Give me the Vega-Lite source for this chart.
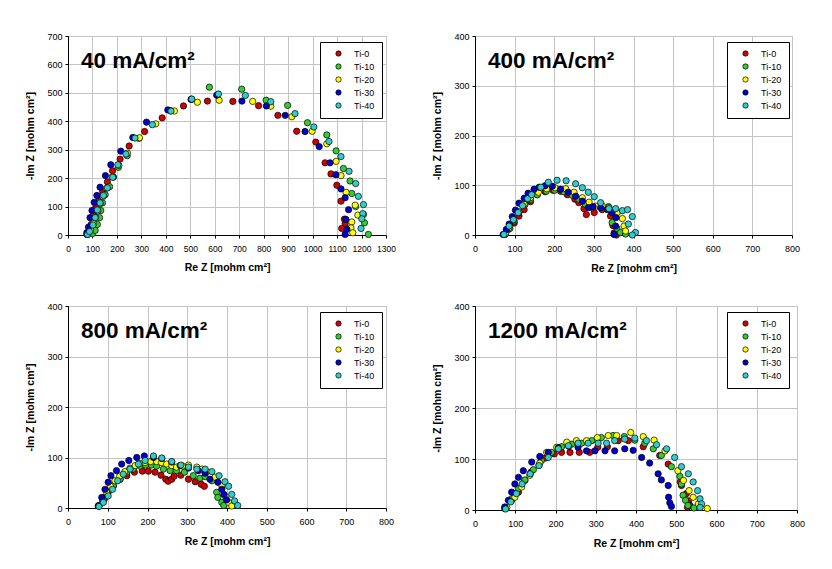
{
"$schema": "https://vega.github.io/schema/vega-lite/v6.json",
"background": "#ffffff",
"padding": {"left": 25, "top": 31, "right": 5, "bottom": 5},
"config": {
 "font": "Liberation Sans",
 "view": {"stroke": "#a0a0a0", "strokeWidth": 1},
 "axis": {"domainColor": "#000", "domainWidth": 1, "tickColor": "#000", "tickSize": 3, "gridColor": "#c4c4c4", "gridWidth": 1, "labelFont": "Liberation Sans", "labelFontSize": 9, "labelColor": "#000", "labelPadding": 3, "labelOverlap": false, "labelFlush": false, "format": "d", "titleFont": "Liberation Sans", "titleFontSize": 10.5, "titleFontWeight": "bold", "titleColor": "#000"},
 "axisX": {"titlePadding": 10, "labelPadding": 6},
 "axisY": {"titlePadding": 11},
 "title": {"anchor": "start", "frame": "group", "fontSize": 22.5, "fontWeight": "bold", "color": "#000", "font": "Liberation Sans", "offset": 0, "baseline": "alphabetic", "dx": 13, "dy": 44},
 "legend": {"title": null, "orient": "none", "legendX": 252, "legendY": 6, "strokeColor": "#000", "fillColor": "#fff", "padding": 7, "symbolType": "circle", "symbolSize": 28, "symbolOffset": 7, "labelOffset": 11, "labelFontSize": 9, "labelFont": "Liberation Sans", "labelColor": "#000", "rowPadding": 3, "symbolStrokeColor": "#000", "symbolStrokeWidth": 0.7}
},
"datasets": {
 "d40": [
  {"s":"Ti-0","re":77,"im":2},{"s":"Ti-0","re":84,"im":12},{"s":"Ti-0","re":95,"im":37},{"s":"Ti-0","re":104,"im":69},{"s":"Ti-0","re":114,"im":96},{"s":"Ti-0","re":129,"im":125},{"s":"Ti-0","re":142,"im":152},{"s":"Ti-0","re":161,"im":187},{"s":"Ti-0","re":182,"im":226},{"s":"Ti-0","re":213,"im":267},{"s":"Ti-0","re":250,"im":313},{"s":"Ti-0","re":313,"im":364},{"s":"Ti-0","re":385,"im":412},{"s":"Ti-0","re":472,"im":454},{"s":"Ti-0","re":570,"im":471},{"s":"Ti-0","re":674,"im":470},{"s":"Ti-0","re":779,"im":455},{"s":"Ti-0","re":858,"im":421},{"s":"Ti-0","re":935,"im":365},{"s":"Ti-0","re":1013,"im":327},{"s":"Ti-0","re":1051,"im":254},{"s":"Ti-0","re":1075,"im":215},{"s":"Ti-0","re":1099,"im":175},{"s":"Ti-0","re":1116,"im":119},{"s":"Ti-0","re":1133,"im":40},{"s":"Ti-0","re":1130,"im":56},{"s":"Ti-0","re":1119,"im":23},
  {"s":"Ti-10","re":80,"im":2},{"s":"Ti-10","re":100,"im":5},{"s":"Ti-10","re":111,"im":16},{"s":"Ti-10","re":120,"im":37},{"s":"Ti-10","re":129,"im":61},{"s":"Ti-10","re":134,"im":86},{"s":"Ti-10","re":141,"im":113},{"s":"Ti-10","re":152,"im":142},{"s":"Ti-10","re":170,"im":170},{"s":"Ti-10","re":186,"im":204},{"s":"Ti-10","re":206,"im":238},{"s":"Ti-10","re":242,"im":279},{"s":"Ti-10","re":290,"im":340},{"s":"Ti-10","re":420,"im":437},{"s":"Ti-10","re":505,"im":478},{"s":"Ti-10","re":578,"im":520},{"s":"Ti-10","re":710,"im":513},{"s":"Ti-10","re":810,"im":474},{"s":"Ti-10","re":898,"im":456},{"s":"Ti-10","re":979,"im":395},{"s":"Ti-10","re":1058,"im":352},{"s":"Ti-10","re":1096,"im":296},{"s":"Ti-10","re":1126,"im":234},{"s":"Ti-10","re":1153,"im":190},{"s":"Ti-10","re":1160,"im":146},{"s":"Ti-10","re":1176,"im":100},{"s":"Ti-10","re":1208,"im":72},{"s":"Ti-10","re":1212,"im":43},{"s":"Ti-10","re":1228,"im":2},
  {"s":"Ti-20","re":80,"im":3},{"s":"Ti-20","re":92,"im":18},{"s":"Ti-20","re":104,"im":40},{"s":"Ti-20","re":113,"im":62},{"s":"Ti-20","re":122,"im":85},{"s":"Ti-20","re":131,"im":110},{"s":"Ti-20","re":143,"im":135},{"s":"Ti-20","re":158,"im":165},{"s":"Ti-20","re":181,"im":205},{"s":"Ti-20","re":208,"im":245},{"s":"Ti-20","re":243,"im":288},{"s":"Ti-20","re":292,"im":342},{"s":"Ti-20","re":359,"im":391},{"s":"Ti-20","re":435,"im":436},{"s":"Ti-20","re":529,"im":467},{"s":"Ti-20","re":618,"im":474},{"s":"Ti-20","re":755,"im":470},{"s":"Ti-20","re":829,"im":453},{"s":"Ti-20","re":915,"im":416},{"s":"Ti-20","re":998,"im":365},{"s":"Ti-20","re":1058,"im":321},{"s":"Ti-20","re":1096,"im":259},{"s":"Ti-20","re":1116,"im":209},{"s":"Ti-20","re":1137,"im":150},{"s":"Ti-20","re":1174,"im":105},{"s":"Ti-20","re":1185,"im":70},{"s":"Ti-20","re":1160,"im":46},{"s":"Ti-20","re":1157,"im":25},{"s":"Ti-20","re":1164,"im":8},
  {"s":"Ti-30","re":77,"im":8},{"s":"Ti-30","re":84,"im":28},{"s":"Ti-30","re":90,"im":61},{"s":"Ti-30","re":98,"im":86},{"s":"Ti-30","re":107,"im":115},{"s":"Ti-30","re":118,"im":139},{"s":"Ti-30","re":131,"im":168},{"s":"Ti-30","re":153,"im":209},{"s":"Ti-30","re":175,"im":247},{"s":"Ti-30","re":216,"im":295},{"s":"Ti-30","re":265,"im":343},{"s":"Ti-30","re":321,"im":397},{"s":"Ti-30","re":408,"im":440},{"s":"Ti-30","re":503,"im":477},{"s":"Ti-30","re":608,"im":492},{"s":"Ti-30","re":711,"im":471},{"s":"Ti-30","re":811,"im":454},{"s":"Ti-30","re":888,"im":421},{"s":"Ti-30","re":969,"im":364},{"s":"Ti-30","re":1027,"im":311},{"s":"Ti-30","re":1071,"im":254},{"s":"Ti-30","re":1095,"im":212},{"s":"Ti-30","re":1116,"im":162},{"s":"Ti-30","re":1133,"im":131},{"s":"Ti-30","re":1147,"im":89},{"s":"Ti-30","re":1136,"im":55},{"s":"Ti-30","re":1140,"im":20},{"s":"Ti-30","re":1133,"im":2},
  {"s":"Ti-40","re":80,"im":2},{"s":"Ti-40","re":88,"im":12},{"s":"Ti-40","re":102,"im":35},{"s":"Ti-40","re":111,"im":61},{"s":"Ti-40","re":120,"im":88},{"s":"Ti-40","re":131,"im":113},{"s":"Ti-40","re":145,"im":139},{"s":"Ti-40","re":161,"im":166},{"s":"Ti-40","re":183,"im":203},{"s":"Ti-40","re":204,"im":247},{"s":"Ti-40","re":237,"im":285},{"s":"Ti-40","re":274,"im":341},{"s":"Ti-40","re":345,"im":388},{"s":"Ti-40","re":421,"im":436},{"s":"Ti-40","re":506,"im":478},{"s":"Ti-40","re":615,"im":496},{"s":"Ti-40","re":725,"im":491},{"s":"Ti-40","re":829,"im":469},{"s":"Ti-40","re":928,"im":427},{"s":"Ti-40","re":1005,"im":380},{"s":"Ti-40","re":1067,"im":329},{"s":"Ti-40","re":1116,"im":276},{"s":"Ti-40","re":1149,"im":224},{"s":"Ti-40","re":1176,"im":181},{"s":"Ti-40","re":1187,"im":136},{"s":"Ti-40","re":1208,"im":107},{"s":"Ti-40","re":1205,"im":75},{"s":"Ti-40","re":1201,"im":57},{"s":"Ti-40","re":1198,"im":23}
 ],
 "d400": [
  {"s":"Ti-0","re":76,"im":1},{"s":"Ti-0","re":84,"im":11},{"s":"Ti-0","re":99,"im":24},{"s":"Ti-0","re":111,"im":38},{"s":"Ti-0","re":124,"im":51},{"s":"Ti-0","re":140,"im":67},{"s":"Ti-0","re":157,"im":81},{"s":"Ti-0","re":177,"im":87},{"s":"Ti-0","re":197,"im":90},{"s":"Ti-0","re":216,"im":88},{"s":"Ti-0","re":233,"im":81},{"s":"Ti-0","re":252,"im":72},{"s":"Ti-0","re":262,"im":65},{"s":"Ti-0","re":275,"im":53},{"s":"Ti-0","re":281,"im":41},{"s":"Ti-0","re":301,"im":45},{"s":"Ti-0","re":321,"im":51},{"s":"Ti-0","re":342,"im":38},{"s":"Ti-0","re":348,"im":19},{"s":"Ti-0","re":351,"im":4},{"s":"Ti-0","re":357,"im":0},
  {"s":"Ti-10","re":77,"im":3},{"s":"Ti-10","re":88,"im":13},{"s":"Ti-10","re":99,"im":28},{"s":"Ti-10","re":111,"im":45},{"s":"Ti-10","re":126,"im":61},{"s":"Ti-10","re":140,"im":71},{"s":"Ti-10","re":157,"im":81},{"s":"Ti-10","re":180,"im":88},{"s":"Ti-10","re":201,"im":90},{"s":"Ti-10","re":224,"im":87},{"s":"Ti-10","re":245,"im":80},{"s":"Ti-10","re":262,"im":72},{"s":"Ti-10","re":278,"im":62},{"s":"Ti-10","re":296,"im":55},{"s":"Ti-10","re":317,"im":60},{"s":"Ti-10","re":337,"im":57},{"s":"Ti-10","re":353,"im":42},{"s":"Ti-10","re":346,"im":25},{"s":"Ti-10","re":358,"im":13},{"s":"Ti-10","re":367,"im":5},{"s":"Ti-10","re":380,"im":2},
  {"s":"Ti-20","re":77,"im":3},{"s":"Ti-20","re":86,"im":15},{"s":"Ti-20","re":97,"im":30},{"s":"Ti-20","re":110,"im":47},{"s":"Ti-20","re":124,"im":62},{"s":"Ti-20","re":140,"im":75},{"s":"Ti-20","re":160,"im":86},{"s":"Ti-20","re":181,"im":93},{"s":"Ti-20","re":202,"im":95},{"s":"Ti-20","re":229,"im":93},{"s":"Ti-20","re":250,"im":86},{"s":"Ti-20","re":271,"im":75},{"s":"Ti-20","re":288,"im":66},{"s":"Ti-20","re":305,"im":58},{"s":"Ti-20","re":321,"im":59},{"s":"Ti-20","re":338,"im":55},{"s":"Ti-20","re":359,"im":45},{"s":"Ti-20","re":372,"im":33},{"s":"Ti-20","re":376,"im":18},{"s":"Ti-20","re":380,"im":8},
  {"s":"Ti-30","re":71,"im":1},{"s":"Ti-30","re":79,"im":11},{"s":"Ti-30","re":86,"im":22},{"s":"Ti-30","re":94,"im":37},{"s":"Ti-30","re":102,"im":50},{"s":"Ti-30","re":111,"im":64},{"s":"Ti-30","re":124,"im":74},{"s":"Ti-30","re":134,"im":84},{"s":"Ti-30","re":149,"im":92},{"s":"Ti-30","re":162,"im":96},{"s":"Ti-30","re":177,"im":99},{"s":"Ti-30","re":195,"im":98},{"s":"Ti-30","re":216,"im":92},{"s":"Ti-30","re":235,"im":86},{"s":"Ti-30","re":254,"im":78},{"s":"Ti-30","re":271,"im":68},{"s":"Ti-30","re":286,"im":55},{"s":"Ti-30","re":298,"im":57},{"s":"Ti-30","re":317,"im":55},{"s":"Ti-30","re":334,"im":51},{"s":"Ti-30","re":346,"im":45},{"s":"Ti-30","re":356,"im":35},{"s":"Ti-30","re":355,"im":18},{"s":"Ti-30","re":351,"im":1},
  {"s":"Ti-40","re":73,"im":1},{"s":"Ti-40","re":86,"im":18},{"s":"Ti-40","re":97,"im":31},{"s":"Ti-40","re":109,"im":45},{"s":"Ti-40","re":120,"im":59},{"s":"Ti-40","re":133,"im":73},{"s":"Ti-40","re":143,"im":81},{"s":"Ti-40","re":166,"im":96},{"s":"Ti-40","re":185,"im":106},{"s":"Ti-40","re":207,"im":110},{"s":"Ti-40","re":230,"im":109},{"s":"Ti-40","re":254,"im":103},{"s":"Ti-40","re":271,"im":95},{"s":"Ti-40","re":286,"im":86},{"s":"Ti-40","re":301,"im":77},{"s":"Ti-40","re":317,"im":65},{"s":"Ti-40","re":338,"im":53},{"s":"Ti-40","re":355,"im":53},{"s":"Ti-40","re":372,"im":49},{"s":"Ti-40","re":385,"im":51},{"s":"Ti-40","re":397,"im":37},{"s":"Ti-40","re":387,"im":22},{"s":"Ti-40","re":405,"im":5},{"s":"Ti-40","re":397,"im":0}
 ],
 "d800": [
  {"s":"Ti-0","re":78,"im":4},{"s":"Ti-0","re":91,"im":17},{"s":"Ti-0","re":101,"im":31},{"s":"Ti-0","re":114,"im":44},{"s":"Ti-0","re":131,"im":57},{"s":"Ti-0","re":148,"im":64},{"s":"Ti-0","re":167,"im":71},{"s":"Ti-0","re":187,"im":73},{"s":"Ti-0","re":202,"im":73},{"s":"Ti-0","re":219,"im":71},{"s":"Ti-0","re":234,"im":65},{"s":"Ti-0","re":246,"im":57},{"s":"Ti-0","re":252,"im":53},{"s":"Ti-0","re":261,"im":57},{"s":"Ti-0","re":267,"im":63},{"s":"Ti-0","re":284,"im":65},{"s":"Ti-0","re":303,"im":57},{"s":"Ti-0","re":320,"im":52},{"s":"Ti-0","re":335,"im":47},{"s":"Ti-0","re":343,"im":43},
  {"s":"Ti-10","re":78,"im":5},{"s":"Ti-10","re":87,"im":14},{"s":"Ti-10","re":97,"im":24},{"s":"Ti-10","re":114,"im":44},{"s":"Ti-10","re":131,"im":57},{"s":"Ti-10","re":148,"im":71},{"s":"Ti-10","re":164,"im":77},{"s":"Ti-10","re":181,"im":83},{"s":"Ti-10","re":195,"im":85},{"s":"Ti-10","re":210,"im":85},{"s":"Ti-10","re":223,"im":83},{"s":"Ti-10","re":240,"im":77},{"s":"Ti-10","re":257,"im":74},{"s":"Ti-10","re":273,"im":74},{"s":"Ti-10","re":293,"im":71},{"s":"Ti-10","re":315,"im":64},{"s":"Ti-10","re":332,"im":59},{"s":"Ti-10","re":345,"im":62},{"s":"Ti-10","re":362,"im":54},{"s":"Ti-10","re":374,"im":31},{"s":"Ti-10","re":377,"im":21},{"s":"Ti-10","re":387,"im":11},{"s":"Ti-10","re":392,"im":5},
  {"s":"Ti-20","re":78,"im":5},{"s":"Ti-20","re":87,"im":17},{"s":"Ti-20","re":97,"im":31},{"s":"Ti-20","re":107,"im":43},{"s":"Ti-20","re":118,"im":54},{"s":"Ti-20","re":130,"im":63},{"s":"Ti-20","re":143,"im":72},{"s":"Ti-20","re":156,"im":79},{"s":"Ti-20","re":169,"im":84},{"s":"Ti-20","re":181,"im":88},{"s":"Ti-20","re":194,"im":90},{"s":"Ti-20","re":208,"im":92},{"s":"Ti-20","re":223,"im":92},{"s":"Ti-20","re":235,"im":90},{"s":"Ti-20","re":248,"im":87},{"s":"Ti-20","re":261,"im":84},{"s":"Ti-20","re":273,"im":81},{"s":"Ti-20","re":288,"im":83},{"s":"Ti-20","re":303,"im":85},{"s":"Ti-20","re":324,"im":81},{"s":"Ti-20","re":337,"im":77},{"s":"Ti-20","re":349,"im":72},{"s":"Ti-20","re":370,"im":61},{"s":"Ti-20","re":387,"im":44},{"s":"Ti-20","re":395,"im":24},{"s":"Ti-20","re":404,"im":11},{"s":"Ti-20","re":412,"im":4},
  {"s":"Ti-30","re":76,"im":4},{"s":"Ti-30","re":85,"im":21},{"s":"Ti-30","re":93,"im":37},{"s":"Ti-30","re":101,"im":51},{"s":"Ti-30","re":108,"im":64},{"s":"Ti-30","re":122,"im":74},{"s":"Ti-30","re":135,"im":87},{"s":"Ti-30","re":153,"im":94},{"s":"Ti-30","re":173,"im":100},{"s":"Ti-30","re":192,"im":103},{"s":"Ti-30","re":215,"im":100},{"s":"Ti-30","re":236,"im":98},{"s":"Ti-30","re":261,"im":91},{"s":"Ti-30","re":282,"im":84},{"s":"Ti-30","re":303,"im":79},{"s":"Ti-30","re":328,"im":74},{"s":"Ti-30","re":345,"im":69},{"s":"Ti-30","re":357,"im":57},{"s":"Ti-30","re":377,"im":51},{"s":"Ti-30","re":387,"im":37},{"s":"Ti-30","re":392,"im":27},{"s":"Ti-30","re":399,"im":16},
  {"s":"Ti-40","re":78,"im":3},{"s":"Ti-40","re":89,"im":11},{"s":"Ti-40","re":101,"im":24},{"s":"Ti-40","re":112,"im":37},{"s":"Ti-40","re":125,"im":54},{"s":"Ti-40","re":139,"im":67},{"s":"Ti-40","re":156,"im":77},{"s":"Ti-40","re":177,"im":87},{"s":"Ti-40","re":194,"im":94},{"s":"Ti-40","re":215,"im":103},{"s":"Ti-40","re":236,"im":99},{"s":"Ti-40","re":261,"im":92},{"s":"Ti-40","re":284,"im":85},{"s":"Ti-40","re":303,"im":81},{"s":"Ti-40","re":324,"im":77},{"s":"Ti-40","re":345,"im":77},{"s":"Ti-40","re":362,"im":72},{"s":"Ti-40","re":380,"im":64},{"s":"Ti-40","re":395,"im":52},{"s":"Ti-40","re":404,"im":43},{"s":"Ti-40","re":412,"im":27},{"s":"Ti-40","re":419,"im":14},{"s":"Ti-40","re":427,"im":5}
 ],
 "d1200": [
  {"s":"Ti-0","re":74,"im":3},{"s":"Ti-0","re":91,"im":19},{"s":"Ti-0","re":108,"im":35},{"s":"Ti-0","re":124,"im":58},{"s":"Ti-0","re":139,"im":74},{"s":"Ti-0","re":159,"im":88},{"s":"Ti-0","re":175,"im":102},{"s":"Ti-0","re":197,"im":110},{"s":"Ti-0","re":215,"im":113},{"s":"Ti-0","re":236,"im":113},{"s":"Ti-0","re":259,"im":113},{"s":"Ti-0","re":285,"im":113},{"s":"Ti-0","re":305,"im":123},{"s":"Ti-0","re":329,"im":124},{"s":"Ti-0","re":356,"im":136},{"s":"Ti-0","re":381,"im":136},{"s":"Ti-0","re":418,"im":124},{"s":"Ti-0","re":459,"im":107},{"s":"Ti-0","re":480,"im":90},{"s":"Ti-0","re":510,"im":55},{"s":"Ti-0","re":513,"im":48},{"s":"Ti-0","re":525,"im":32},{"s":"Ti-0","re":531,"im":18},{"s":"Ti-0","re":534,"im":9},{"s":"Ti-0","re":528,"im":5},
  {"s":"Ti-10","re":74,"im":3},{"s":"Ti-10","re":91,"im":22},{"s":"Ti-10","re":108,"im":42},{"s":"Ti-10","re":124,"im":59},{"s":"Ti-10","re":145,"im":79},{"s":"Ti-10","re":165,"im":97},{"s":"Ti-10","re":190,"im":113},{"s":"Ti-10","re":215,"im":124},{"s":"Ti-10","re":240,"im":129},{"s":"Ti-10","re":265,"im":131},{"s":"Ti-10","re":290,"im":136},{"s":"Ti-10","re":314,"im":142},{"s":"Ti-10","re":343,"im":146},{"s":"Ti-10","re":371,"im":144},{"s":"Ti-10","re":397,"im":137},{"s":"Ti-10","re":422,"im":131},{"s":"Ti-10","re":443,"im":120},{"s":"Ti-10","re":463,"im":107},{"s":"Ti-10","re":488,"im":85},{"s":"Ti-10","re":509,"im":66},{"s":"Ti-10","re":513,"im":51},{"s":"Ti-10","re":517,"im":29},{"s":"Ti-10","re":523,"im":19},{"s":"Ti-10","re":529,"im":9},{"s":"Ti-10","re":544,"im":4},
  {"s":"Ti-20","re":79,"im":5},{"s":"Ti-20","re":99,"im":25},{"s":"Ti-20","re":116,"im":45},{"s":"Ti-20","re":136,"im":68},{"s":"Ti-20","re":161,"im":92},{"s":"Ti-20","re":178,"im":113},{"s":"Ti-20","re":203,"im":123},{"s":"Ti-20","re":228,"im":133},{"s":"Ti-20","re":252,"im":136},{"s":"Ti-20","re":277,"im":136},{"s":"Ti-20","re":304,"im":142},{"s":"Ti-20","re":331,"im":146},{"s":"Ti-20","re":352,"im":146},{"s":"Ti-20","re":387,"im":152},{"s":"Ti-20","re":418,"im":144},{"s":"Ti-20","re":445,"im":137},{"s":"Ti-20","re":472,"im":116},{"s":"Ti-20","re":504,"im":77},{"s":"Ti-20","re":518,"im":58},{"s":"Ti-20","re":532,"im":38},{"s":"Ti-20","re":542,"im":25},{"s":"Ti-20","re":555,"im":12},{"s":"Ti-20","re":577,"im":3},
  {"s":"Ti-30","re":74,"im":6},{"s":"Ti-30","re":83,"im":19},{"s":"Ti-30","re":91,"im":35},{"s":"Ti-30","re":99,"im":51},{"s":"Ti-30","re":108,"im":64},{"s":"Ti-30","re":120,"im":77},{"s":"Ti-30","re":141,"im":94},{"s":"Ti-30","re":161,"im":105},{"s":"Ti-30","re":182,"im":113},{"s":"Ti-30","re":207,"im":122},{"s":"Ti-30","re":233,"im":125},{"s":"Ti-30","re":256,"im":123},{"s":"Ti-30","re":277,"im":116},{"s":"Ti-30","re":298,"im":116},{"s":"Ti-30","re":323,"im":116},{"s":"Ti-30","re":347,"im":116},{"s":"Ti-30","re":372,"im":120},{"s":"Ti-30","re":393,"im":117},{"s":"Ti-30","re":414,"im":103},{"s":"Ti-30","re":434,"im":92},{"s":"Ti-30","re":455,"im":71},{"s":"Ti-30","re":463,"im":59},{"s":"Ti-30","re":480,"im":48},{"s":"Ti-30","re":481,"im":25},{"s":"Ti-30","re":484,"im":14},{"s":"Ti-30","re":488,"im":7},
  {"s":"Ti-40","re":76,"im":2},{"s":"Ti-40","re":89,"im":16},{"s":"Ti-40","re":103,"im":32},{"s":"Ti-40","re":117,"im":51},{"s":"Ti-40","re":137,"im":71},{"s":"Ti-40","re":159,"im":87},{"s":"Ti-40","re":182,"im":103},{"s":"Ti-40","re":207,"im":120},{"s":"Ti-40","re":232,"im":126},{"s":"Ti-40","re":256,"im":131},{"s":"Ti-40","re":281,"im":131},{"s":"Ti-40","re":306,"im":131},{"s":"Ti-40","re":327,"im":131},{"s":"Ti-40","re":347,"im":136},{"s":"Ti-40","re":372,"im":139},{"s":"Ti-40","re":397,"im":141},{"s":"Ti-40","re":426,"im":136},{"s":"Ti-40","re":451,"im":128},{"s":"Ti-40","re":476,"im":120},{"s":"Ti-40","re":496,"im":103},{"s":"Ti-40","re":513,"im":85},{"s":"Ti-40","re":530,"im":71},{"s":"Ti-40","re":542,"im":55},{"s":"Ti-40","re":553,"im":38},{"s":"Ti-40","re":559,"im":22},{"s":"Ti-40","re":563,"im":12},{"s":"Ti-40","re":559,"im":5}
 ]
},
"columns": 2,
"concat": [
  {"data": {"name": "d40"}, "width": 318, "height": 199,
   "title": {"text": "40 mA/cm²"},
   "mark": {"type": "circle", "size": 40, "opacity": 1, "stroke": "#000", "strokeWidth": 0.7},
   "encoding": {
    "x": {"field": "re", "type": "quantitative", "scale": {"domain": [0, 1300], "nice": false}, "axis": {"values": [0,100,200,300,400,500,600,700,800,900,1000,1100,1200,1300], "title": "Re Z [mohm cm²]", "labelFontSize": 8.5}},
    "y": {"field": "im", "type": "quantitative", "scale": {"domain": [0, 700], "nice": false}, "axis": {"values": [0,100,200,300,400,500,600,700], "title": "-Im Z [mohm cm²]"}},
    "color": {"field": "s", "type": "nominal", "scale": {"domain": ["Ti-0","Ti-10","Ti-20","Ti-30","Ti-40"], "range": ["#d40000","#33cc33","#ffff00","#0000cc","#33cccc"]}}
   }},
  {"data": {"name": "d400"}, "width": 317, "height": 199,
   "title": {"text": "400 mA/cm²"},
   "mark": {"type": "circle", "size": 40, "opacity": 1, "stroke": "#000", "strokeWidth": 0.7},
   "encoding": {
    "x": {"field": "re", "type": "quantitative", "scale": {"domain": [0, 800], "nice": false}, "axis": {"values": [0,100,200,300,400,500,600,700,800], "title": "Re Z [mohm cm²]"}},
    "y": {"field": "im", "type": "quantitative", "scale": {"domain": [0, 400], "nice": false}, "axis": {"values": [0,100,200,300,400], "title": "-Im Z [mohm cm²]"}},
    "color": {"field": "s", "type": "nominal", "scale": {"domain": ["Ti-0","Ti-10","Ti-20","Ti-30","Ti-40"], "range": ["#d40000","#33cc33","#ffff00","#0000cc","#33cccc"]}}
   }},
  {"data": {"name": "d800"}, "width": 318, "height": 202,
   "title": {"text": "800 mA/cm²"},
   "mark": {"type": "circle", "size": 40, "opacity": 1, "stroke": "#000", "strokeWidth": 0.7},
   "encoding": {
    "x": {"field": "re", "type": "quantitative", "scale": {"domain": [0, 800], "nice": false}, "axis": {"values": [0,100,200,300,400,500,600,700,800], "title": "Re Z [mohm cm²]"}},
    "y": {"field": "im", "type": "quantitative", "scale": {"domain": [0, 400], "nice": false}, "axis": {"values": [0,100,200,300,400], "title": "-Im Z [mohm cm²]"}},
    "color": {"field": "s", "type": "nominal", "scale": {"domain": ["Ti-0","Ti-10","Ti-20","Ti-30","Ti-40"], "range": ["#d40000","#33cc33","#ffff00","#0000cc","#33cccc"]}}
   }},
  {"data": {"name": "d1200"}, "width": 322, "height": 204,
   "title": {"text": "1200 mA/cm²"},
   "mark": {"type": "circle", "size": 40, "opacity": 1, "stroke": "#000", "strokeWidth": 0.7},
   "encoding": {
    "x": {"field": "re", "type": "quantitative", "scale": {"domain": [0, 800], "nice": false}, "axis": {"values": [0,100,200,300,400,500,600,700,800], "title": "Re Z [mohm cm²]"}},
    "y": {"field": "im", "type": "quantitative", "scale": {"domain": [0, 400], "nice": false}, "axis": {"values": [0,100,200,300,400], "title": "-Im Z [mohm cm²]"}},
    "color": {"field": "s", "type": "nominal", "scale": {"domain": ["Ti-0","Ti-10","Ti-20","Ti-30","Ti-40"], "range": ["#d40000","#33cc33","#ffff00","#0000cc","#33cccc"]}}
   }}
],
"spacing": {"row": 71, "column": 89},
"bounds": "flush",
"resolve": {"scale": {"color": "independent"}, "legend": {"color": "independent"}}
}
